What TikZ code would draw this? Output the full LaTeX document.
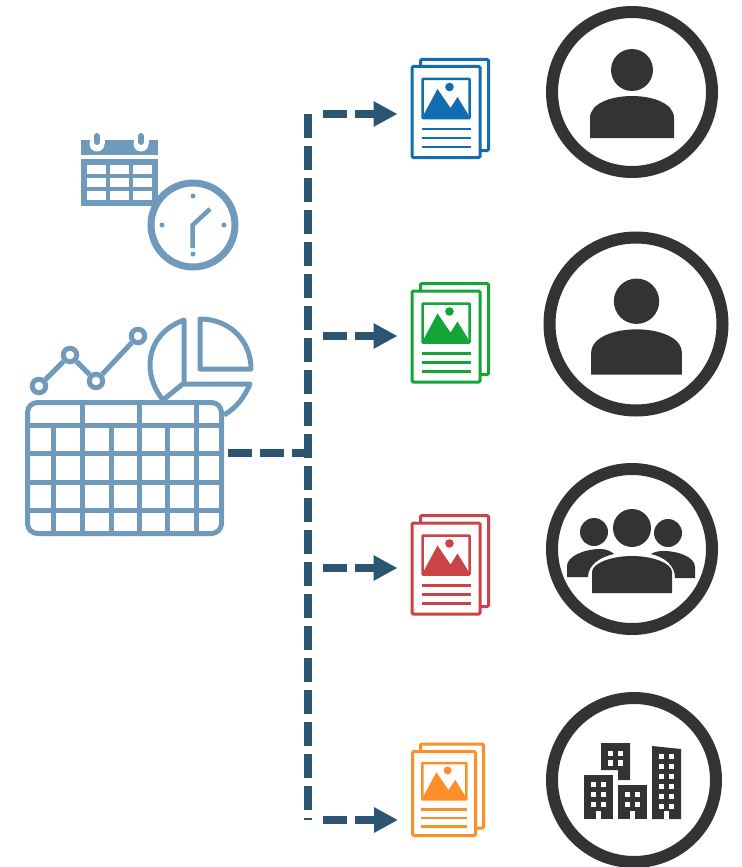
\documentclass[tikz,border=0pt]{standalone}
\usepackage{tikz}
\usetikzlibrary{
    arrows.meta,
    calc,
}

\definecolor{flowblue}{HTML}{2B5570}
\definecolor{iconblue}{HTML}{6F9ABC}
\definecolor{icondark}{HTML}{333333}
\definecolor{docblue}{HTML}{126DB0}
\definecolor{docgreen}{HTML}{13A538}
\definecolor{docred}{HTML}{CB4347}
\definecolor{docorange}{HTML}{FD8F28}

\def\unitpx{0.75pt}

\newcommand{\docart}[4]{
    \begin{scope}[shift={(#1.north west)}, xscale=#3, yscale=#4]
        \draw[#2, line width=2.5*\unitpx, fill=white, rounded corners=0.5] (12,14) rectangle (59,53);
        \fill[#2] (13,53) -- (13,50) -- (27,24) -- (40,43) -- (47,32) -- (58,50) -- (58,53) -- cycle;
        \fill[#2] (39,22) circle (4.3);
        \foreach \liney in {64,73,82}
            \draw[#2, line width=2.6*\unitpx] (11,\liney) -- (60,\liney);
    \end{scope}
}

\begin{document}
\begin{tikzpicture}[
    x=\unitpx, y=-\unitpx,
    flow/.style={line width=8*\unitpx, flowblue, dash pattern=on 24*\unitpx off 8*\unitpx},
    flowarrow/.style={flow, -{Triangle[length=18pt, width=18pt]}, shorten >=13*\unitpx},
    ring/.style={draw=icondark, line width=12*\unitpx, circle, minimum size=#1*\unitpx, inner sep=0pt},
    docpage/.style={draw, line width=3*\unitpx, fill=white, rounded corners=1, inner sep=0pt, minimum width=68*\unitpx, minimum height=91*\unitpx},
    smalldocpage/.style={docpage, minimum width=63*\unitpx, minimum height=84*\unitpx},
    iconline/.style={draw=iconblue, line width=5*\unitpx},
    chartpoint/.style={iconline, circle, fill=white, minimum size=13.5*\unitpx, inner sep=0pt},
    pics/person/.style={code={
        \fill[icondark] (0,-22) circle (21);
        \fill[icondark] (-42,46) -- (-42,26) .. controls (-42,11) and (-20,4) .. (0,4)
            .. controls (20,4) and (42,11) .. (42,26) -- (42,46) -- cycle;
    }},
    ]

\useasboundingbox (0,0) rectangle (742,867);

\node[ring=160] at (632,92) (ringa) {};
\node[ring=173] at (636,324) (ringb) {};
\node[ring=160] at (632,549) (ringc) {};
\node[ring=164] at (634,780) (ringd) {};

\pic at (ringa) {person};
\pic[scale=1.08] at (636.5,325) {person};

\fill[icondark] (632,528) circle (19);
\fill[icondark] (594,532) circle (14);
\fill[icondark] (668,533) circle (14);
\fill[icondark] (567,577) -- (567,566) .. controls (567,556) and (585,549) .. (600,549)
    .. controls (606,549) and (611,551) .. (614,554) .. controls (600,557) and (588,565) .. (588,577) -- cycle;
\fill[icondark] (695,578) -- (695,567) .. controls (695,557) and (678,551) .. (664,551)
    .. controls (658,551) and (654,552) .. (651,554) .. controls (664,557) and (675,565) .. (675,578) -- cycle;
\fill[icondark] (592,593) -- (592,572) .. controls (592,563) and (612,556) .. (632,556)
    .. controls (652,556) and (672,563) .. (672,572) -- (672,593) -- cycle;

\fill[icondark] (601,743) -- (630,743) -- (630,780) -- (618,780) -- (618,770) -- (601,770) -- cycle;
\fill[icondark] (584,775) rectangle (613,819);
\fill[icondark] (618,785) rectangle (647,819);
\fill[icondark] (652,746) -- (681,749) -- (681,819) -- (652,819) -- cycle;
\foreach \winx in {608.2,617.8} \foreach \winy in {750.8,760.4}
    \fill[white] (\winx,\winy) rectangle ++(5.2,5.2);
\foreach \winx in {591.2,600.8} \foreach \winy in {782,792,802}
    \fill[white] (\winx,\winy) rectangle ++(5.2,5.2);
\foreach \winx in {625.2,634.8} \foreach \winy in {792,802}
    \fill[white] (\winx,\winy) rectangle ++(5.2,5.2);
\foreach \winx in {659.2,668.8} \foreach \winy in {754,764,774,784,794,804}
    \fill[white] (\winx,\winy) rectangle ++(5.2,5.2);
\foreach \doorx in {596,630,664}
    \fill[white] (\doorx,811) rectangle ++(5,8);

\node[docpage, draw=docblue] at (454.5,105) (docaback) {};
\node[docpage, draw=docblue] at (446,112) (doca) {};
\docart{doca}{docblue}{1}{1}

\node[docpage, draw=docgreen] at (454.5,329) (docbback) {};
\node[docpage, draw=docgreen] at (446,336.5) (docb) {};
\docart{docb}{docgreen}{1}{1}

\node[docpage, draw=docred] at (454.5,561) (doccback) {};
\node[docpage, draw=docred] at (446,568.5) (docc) {};
\docart{docc}{docred}{1}{1}

\node[smalldocpage, draw=docorange] at (452,786) (docdback) {};
\node[smalldocpage, draw=docorange] at (444,793.5) (docd) {};
\docart{docd}{docorange}{0.94}{0.93}

\coordinate (trunktop) at (307.5,114);
\coordinate (trunkend) at (307.5,820);
\coordinate (feedstart) at (228,453);
\coordinate (brancha) at (323,114);
\coordinate (branchb) at (323,336);
\coordinate (branchc) at (323,568);
\coordinate (branchd) at (323,820);

\draw[flow] (trunktop) -- (trunkend);
\draw[flow, shorten >=4*\unitpx] (feedstart) -- (feedstart -| trunktop);
\draw[flowarrow] (brancha) -- (brancha -| doca.west);
\draw[flowarrow] (branchb) -- (branchb -| docb.west);
\draw[flowarrow] (branchc) -- (branchc -| docc.west);
\draw[flowarrow] (branchd) -- (branchd -| docd.west);

\fill[iconblue] (81,140) rectangle (158,155);
\fill[iconblue] (81,159) rectangle (158,206);
\foreach \pegx in {97,141} {
    \fill[white] (\pegx-7.5,136) rectangle (\pegx+7.5,144);
    \fill[white] (\pegx,144) circle (7.5);
    \draw[iconblue, line width=6*\unitpx, line cap=round] (\pegx,136) -- (\pegx,142);
}
\foreach \cellx in {87,110,133} \foreach \celly in {165,178,191}
    \fill[white] (\cellx,\celly) rectangle ++(18.5,9);

\node[draw=iconblue, line width=7*\unitpx, fill=white, circle, minimum size=84*\unitpx, inner sep=0pt] at (193,225) (clock) {};
\foreach \tickx/\ticky in {193/196,193/254,162/225,224/225}
    \fill[iconblue] (\tickx,\ticky) circle (2.5);
\draw[iconblue, line width=4.5*\unitpx] (210,209) -- (192.7,225) -- (192.7,248);

\node[chartpoint] at (39,386) (pointa) {};
\node[chartpoint] at (70,355) (pointb) {};
\node[chartpoint] at (96,381) (pointc) {};
\node[chartpoint] at (138,336) (pointd) {};
\draw[iconline] (pointa) -- (pointb);
\draw[iconline] (pointb) -- (pointc);
\draw[iconline] (pointc) -- (pointd);

\draw[iconline, line join=round] (200,319) -- (200,369) -- (251,369) .. controls (251,340) and (229,319) .. (200,319) -- cycle;
\draw[iconline, line join=round] (184,320) .. controls (162,328) and (150,345) .. (150,365)
    .. controls (150,378) and (155,390) .. (163,400) -- (184,383) -- cycle;
\draw[iconline, line join=round] (184,384) -- (250,384) .. controls (244,398) and (236,408) .. (224,415);

\node[iconline, fill=white, rounded corners=10*\unitpx, minimum width=194*\unitpx, minimum height=131*\unitpx, inner sep=0pt] at (124.5,468) (sheet) {};
\foreach \rowy in {425,453,482,510}
    \draw[iconline] (sheet.west |- 0,\rowy) -- (sheet.east |- 0,\rowy);
\foreach \colx in {82,139,196}
    \draw[iconline] (sheet.north -| \colx,0) -- (sheet.south -| \colx,0);
\foreach \colx in {53,111,167}
    \draw[iconline] (\colx,425) -- (sheet.south -| \colx,0);

\end{tikzpicture}
\end{document}
